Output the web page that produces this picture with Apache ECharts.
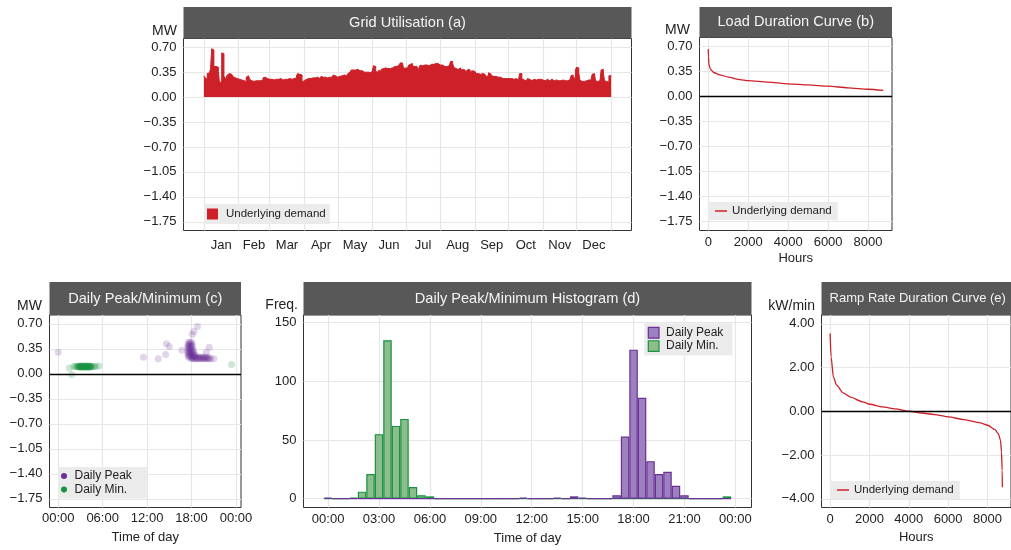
<!DOCTYPE html>
<html>
<head>
<meta charset="utf-8">
<title>Grid utilisation</title>
<script src="https://cdn.jsdelivr.net/npm/echarts@6.0.0/dist/echarts.min.js"></script>
<style>
  html, body { margin: 0; padding: 0; background: #fff; }
  #chart { width: 1011px; height: 550px; }
</style>
</head>
<body>
<div id="chart"></div>
<script>
// ---------- data ----------
const months = ['Jan', 'Feb', 'Mar', 'Apr', 'May', 'Jun', 'Jul', 'Aug', 'Sep', 'Oct', 'Nov', 'Dec'];
const monthStartDay = [0, 31, 59, 90, 120, 151, 181, 212, 243, 273, 304, 334, 365];
const monthMidDay = [15.5, 45, 74.5, 105, 135.5, 166, 196.5, 227.5, 258, 288.5, 319, 349.5];

// daily peak of underlying demand, MW (one value per day)
const dailyPeakMW = [
  0.30, 0.27, 0.25, 0.33, 0.34, 0.34, 0.40, 0.68, 0.66, 0.43, 0.43, 0.44, 0.42, 0.36, 0.20, 0.22, 0.62, 0.61, 0.30, 0.25, 0.28, 0.31, 0.33, 0.33, 0.32, 0.30, 0.29, 0.27, 0.27, 0.26, 0.26,
  0.25, 0.25, 0.24, 0.25, 0.23, 0.21, 0.22, 0.28, 0.30, 0.29, 0.25, 0.23, 0.23, 0.22, 0.23, 0.23, 0.22, 0.23, 0.24, 0.23, 0.23, 0.24, 0.27, 0.28, 0.28, 0.26, 0.25, 0.25,
  0.24, 0.25, 0.25, 0.24, 0.25, 0.25, 0.24, 0.25, 0.25, 0.26, 0.25, 0.24, 0.25, 0.25, 0.24, 0.25, 0.25, 0.26, 0.25, 0.25, 0.24, 0.26, 0.28, 0.27, 0.30, 0.33, 0.32, 0.33, 0.31, 0.21, 0.23,
  0.24, 0.25, 0.26, 0.26, 0.27, 0.26, 0.27, 0.27, 0.26, 0.27, 0.27, 0.28, 0.27, 0.26, 0.28, 0.29, 0.28, 0.27, 0.28, 0.28, 0.27, 0.27, 0.28, 0.27, 0.28, 0.29, 0.31, 0.30, 0.29, 0.28,
  0.28, 0.29, 0.30, 0.30, 0.30, 0.31, 0.30, 0.30, 0.31, 0.33, 0.35, 0.37, 0.38, 0.38, 0.39, 0.38, 0.38, 0.39, 0.38, 0.37, 0.38, 0.37, 0.36, 0.35, 0.34, 0.35, 0.36, 0.35, 0.33, 0.34, 0.34,
  0.37, 0.44, 0.43, 0.36, 0.35, 0.37, 0.38, 0.36, 0.39, 0.40, 0.39, 0.41, 0.40, 0.40, 0.41, 0.40, 0.38, 0.41, 0.42, 0.43, 0.42, 0.43, 0.44, 0.45, 0.47, 0.48, 0.48, 0.46, 0.40, 0.41,
  0.42, 0.41, 0.44, 0.46, 0.48, 0.47, 0.44, 0.43, 0.42, 0.43, 0.41, 0.37, 0.42, 0.45, 0.44, 0.46, 0.45, 0.46, 0.45, 0.46, 0.44, 0.43, 0.46, 0.47, 0.46, 0.47, 0.47, 0.46, 0.47, 0.46, 0.45,
  0.46, 0.45, 0.44, 0.43, 0.42, 0.43, 0.41, 0.44, 0.46, 0.50, 0.50, 0.47, 0.42, 0.40, 0.41, 0.39, 0.40, 0.41, 0.38, 0.39, 0.40, 0.38, 0.36, 0.35, 0.38, 0.39, 0.37, 0.36, 0.37, 0.37, 0.36,
  0.34, 0.33, 0.33, 0.33, 0.32, 0.31, 0.33, 0.33, 0.32, 0.30, 0.29, 0.30, 0.34, 0.33, 0.31, 0.30, 0.29, 0.28, 0.29, 0.27, 0.28, 0.29, 0.28, 0.27, 0.26, 0.27, 0.26, 0.25, 0.26, 0.26,
  0.26, 0.25, 0.26, 0.26, 0.25, 0.26, 0.26, 0.25, 0.24, 0.25, 0.33, 0.33, 0.26, 0.24, 0.24, 0.23, 0.24, 0.26, 0.25, 0.24, 0.23, 0.24, 0.25, 0.25, 0.24, 0.24, 0.25, 0.26, 0.25, 0.24, 0.24,
  0.24, 0.23, 0.24, 0.25, 0.24, 0.23, 0.24, 0.25, 0.24, 0.23, 0.24, 0.24, 0.23, 0.23, 0.24, 0.23, 0.24, 0.24, 0.23, 0.23, 0.24, 0.23, 0.24, 0.24, 0.25, 0.30, 0.31, 0.28, 0.26, 0.38,
  0.42, 0.41, 0.34, 0.24, 0.22, 0.23, 0.22, 0.24, 0.23, 0.24, 0.24, 0.23, 0.24, 0.26, 0.32, 0.33, 0.31, 0.23, 0.22, 0.24, 0.23, 0.25, 0.38, 0.39, 0.35, 0.23, 0.22, 0.22, 0.21, 0.30, 0.30
];

// load duration curve
const ldcHours = [0, 10, 33, 80, 167, 300, 583, 1000, 1583, 2000, 3000, 4000, 5000, 6000, 7000, 8000, 8760];
const ldcMW = [0.66, 0.55, 0.45, 0.40, 0.36, 0.33, 0.30, 0.27, 0.235, 0.22, 0.20, 0.175, 0.16, 0.143, 0.12, 0.10, 0.083];

// daily peak: time of day (h) and value (MW), outliers first, then the 18:00 cluster row by row
const peakHour = [0.0, 11.5, 13.5, 14.5, 14.6, 15.0, 16.7, 18.1, 18.3, 18.8, 20.0, 20.4, 21.0,
  18.0, 18.2, 18.4, 18.6, 18.8, 19.0, 19.2, 19.4, 19.6, 19.8, 20.0, 20.2, 20.4, 20.6,
  17.6, 17.8, 18.0, 18.2, 18.4, 18.6, 18.8, 19.0, 19.2, 19.4, 19.6, 19.8, 20.0, 20.3,
  17.5, 17.7, 17.9, 18.1, 18.3, 18.5,
  17.5, 17.7, 17.9, 18.1, 18.3,
  17.5, 17.7, 17.9, 18.1, 18.3,
  17.5, 17.7, 17.9, 18.1,
  17.5, 17.7, 17.9, 18.1,
  17.5, 17.7, 17.9, 18.1,
  17.6, 17.8, 18.0];
const peakMW = [0.30, 0.23, 0.21, 0.27, 0.42, 0.38, 0.33, 0.55, 0.59, 0.66, 0.30, 0.37, 0.21,
  0.21, 0.21, 0.21, 0.21, 0.21, 0.21, 0.21, 0.21, 0.21, 0.21, 0.21, 0.21, 0.21, 0.21,
  0.23, 0.23, 0.23, 0.23, 0.23, 0.23, 0.23, 0.23, 0.23, 0.23, 0.23, 0.23, 0.23, 0.23,
  0.26, 0.26, 0.26, 0.26, 0.26, 0.26,
  0.29, 0.29, 0.29, 0.29, 0.29,
  0.32, 0.32, 0.32, 0.32, 0.32,
  0.35, 0.35, 0.35, 0.35,
  0.38, 0.38, 0.38, 0.38,
  0.41, 0.41, 0.41, 0.41,
  0.44, 0.44, 0.44];
// daily minimum: outliers first, then the 03:00 cluster
const minHour = [1.5, 1.8, 5.5, 23.4,
  2.1, 2.3, 2.5, 2.6, 2.7, 2.8, 2.9, 3.0, 3.1, 3.2, 3.3, 3.4, 3.5, 3.6, 3.7, 3.8, 3.9, 4.0, 4.1, 4.2, 4.3, 4.4, 4.5, 4.7, 4.9, 5.1,
  2.8, 3.0, 3.2, 3.4, 3.6, 3.8, 4.0, 4.2, 4.4,
  2.9, 3.1, 3.3, 3.5, 3.7, 3.9, 4.1, 4.3];
const minMW = [0.08, -0.01, 0.11, 0.13,
  0.10, 0.10, 0.10, 0.10, 0.10, 0.10, 0.10, 0.10, 0.10, 0.10, 0.10, 0.10, 0.10, 0.10, 0.10, 0.10, 0.10, 0.10, 0.10, 0.10, 0.10, 0.10, 0.10, 0.10, 0.10, 0.10,
  0.09, 0.09, 0.09, 0.09, 0.09, 0.09, 0.09, 0.09, 0.09,
  0.11, 0.11, 0.11, 0.11, 0.11, 0.11, 0.11, 0.11];

// histogram, 30 minute bins starting 00:00
const peakCount = [1, 0, 0, 0, 0, 0, 0, 0, 0, 0, 0, 0, 0, 0, 0, 0, 0, 0, 0, 0, 0, 0, 0, 1, 0, 0, 0, 1, 0, 2,
  1, 0, 0, 0, 3, 53, 127, 86, 32, 21, 23, 11, 3, 0, 0, 0, 0, 0];
const minCount = [0, 0, 0, 1, 6, 21, 55, 135, 62, 68, 10, 3, 2, 0, 0, 0, 0, 0, 0, 0, 0, 0, 0, 0, 0, 0, 0, 0, 0, 0,
  0, 0, 0, 0, 0, 0, 0, 0, 0, 0, 0, 0, 0, 0, 0, 0, 0, 2];
const binHour = peakCount.map((_, i) => i * 0.5);

// ramp rate duration curve
const rampHours = [0, 50, 166, 332, 664, 1000, 1660, 2025, 2656, 3320, 4034, 4650, 5300, 6026, 6800, 7636, 8018, 8383, 8550, 8665, 8715, 8748, 8760];
const rampKWmin = [3.56, 2.49, 1.57, 1.19, 0.84, 0.66, 0.43, 0.32, 0.20, 0.11, 0.00, -0.08, -0.15, -0.26, -0.38, -0.53, -0.64, -0.84, -1.02, -1.33, -1.86, -2.70, -3.47];

// tick values
const mwTicks = [-1.75, -1.40, -1.05, -0.70, -0.35, 0, 0.35, 0.70];
const hourTicks = [0, 2000, 4000, 6000, 8000];
const tod6Ticks = [0, 6, 12, 18, 24];
const tod3Ticks = [0, 3, 6, 9, 12, 15, 18, 21, 24];
const freqTicks = [0, 50, 100, 150];
const rampTicks = [-4, -2, 0, 2, 4];

// ---------- style ----------
const FONT = "'Liberation Sans', Arial, Helvetica, sans-serif";
const INK = '#222222';
const RED = '#CE2029';
const PURPLE = '#6B2F96';
const GREEN = '#15933E';
const STRIP = '#585858';
const LEGEND_BG = '#EBEBEB';
const GRIDLINE = '#E6E6E6';

const fmt2 = v => (v < 0 ? '\u2212' : '') + Math.abs(v).toFixed(2);
const fmtTod = v => String(v % 24).padStart(2, '0') + ':00';

function axis(gridIndex, min, max, ticks, formatter, margin, labelTicks) {
  return {
    type: 'value', gridIndex, min, max,
    axisLine: { show: false },
    axisTick: { show: true, length: 4, customValues: ticks, lineStyle: { color: '#333', width: 1 } },
    axisLabel: { customValues: labelTicks || ticks, formatter, color: INK, fontSize: 13, margin },
    splitLine: { show: false }
  };
}

function xName(ax, name, gap) {
  return Object.assign(ax, {
    name, nameLocation: 'middle', nameGap: gap,
    nameTextStyle: { color: INK, fontSize: 13 }
  });
}

const gridBox = { show: true, borderColor: '#333', borderWidth: 1, backgroundColor: '#fff' };
const grids = [
  Object.assign({ left: 183.5, top: 38.5, width: 448, height: 192 }, gridBox),
  Object.assign({ left: 699.5, top: 37.5, width: 192.5, height: 193 }, gridBox),
  Object.assign({ left: 49.5, top: 315, width: 191.5, height: 192.5 }, gridBox),
  Object.assign({ left: 303.5, top: 315, width: 448, height: 192.5 }, gridBox),
  Object.assign({ left: 821.5, top: 315, width: 194.2, height: 192.5 }, gridBox)
];

const xAxes = [
  axis(0, -18.25, 383.25, monthStartDay, v => months[monthMidDay.indexOf(v)], 8, monthMidDay),
  xName(axis(1, -438, 9198, hourTicks, v => String(v), 5), 'Hours', 21),
  xName(axis(2, -1.175, 24.675, tod6Ticks, fmtTod, 4), 'Time of day', 23),
  xName(axis(3, -1.45, 24.95, tod3Ticks, fmtTod, 5), 'Time of day', 24),
  xName(axis(4, -438, 9198, hourTicks, v => String(v), 5), 'Hours', 23)
];
const yAxes = [
  axis(0, -1.8725, 0.8225, mwTicks, fmt2, 7),
  axis(1, -1.8725, 0.8225, mwTicks, fmt2, 7),
  axis(2, -1.8725, 0.8225, mwTicks, fmt2, 7),
  axis(3, -7.5, 156.5, freqTicks, v => String(v), 7),
  axis(4, -4.4, 4.4, rampTicks, fmt2, 7)
];

// panel grid lines at the tick values, drawn below the data
const gridTicks = [
  [monthStartDay, mwTicks], [hourTicks, mwTicks], [tod6Ticks, mwTicks], [tod3Ticks, freqTicks], [hourTicks, rampTicks]
];
const gridLineSeries = gridTicks.map(([xt, yt], i) => ({
  type: 'line', name: 'gridlines-' + i, xAxisIndex: i, yAxisIndex: i, data: [], silent: true,
  markLine: {
    z: 1, silent: true, symbol: ['none', 'none'], label: { show: false },
    emphasis: { disabled: true },
    lineStyle: { color: GRIDLINE, width: 1.2, type: 'solid' },
    data: xt.map(v => ({ xAxis: v })).concat(yt.map(v => ({ yAxis: v })))
  }
}));

const zeroLine = {
  silent: true, symbol: ['none', 'none'], label: { show: false },
  lineStyle: { color: '#000', width: 1.3, type: 'solid' },
  data: [{ yAxis: 0 }]
};

const demandData = dailyPeakMW.map((v, i) => [i, v]);
demandData.push([365, dailyPeakMW[dailyPeakMW.length - 1]]);

const series = gridLineSeries.concat([
  {
    name: 'Underlying demand', type: 'line', xAxisIndex: 0, yAxisIndex: 0,
    step: 'end', symbol: 'none',
    lineStyle: { color: RED, width: 1 },
    itemStyle: { color: RED },
    areaStyle: { color: RED, opacity: 1 },
    data: demandData
  },
  {
    name: 'Underlying demand', type: 'line', xAxisIndex: 1, yAxisIndex: 1,
    symbol: 'none', smooth: 0.25, smoothMonotone: 'x',
    lineStyle: { color: RED, width: 1.3 }, itemStyle: { color: RED },
    data: ldcHours.map((h, i) => [h, ldcMW[i]]),
    markLine: zeroLine
  },
  {
    name: 'Daily Peak', type: 'scatter', xAxisIndex: 2, yAxisIndex: 2,
    symbolSize: 7, itemStyle: { color: PURPLE, opacity: 0.2 },
    data: peakHour.map((h, i) => [h, peakMW[i]]),
    markLine: zeroLine
  },
  {
    name: 'Daily Min.', type: 'scatter', xAxisIndex: 2, yAxisIndex: 2,
    symbolSize: 7, itemStyle: { color: GREEN, opacity: 0.22 },
    data: minHour.map((h, i) => [h, minMW[i]])
  },
  {
    name: 'Daily Min.', type: 'bar', xAxisIndex: 3, yAxisIndex: 3, stack: 'hist', barWidth: '100%',
    itemStyle: { color: '#8DBC8D', borderColor: GREEN, borderWidth: 1.2 },
    data: binHour.map((h, i) => [h, minCount[i]])
  },
  {
    name: 'Daily Peak', type: 'bar', xAxisIndex: 3, yAxisIndex: 3, stack: 'hist', barWidth: '100%',
    itemStyle: { color: '#9D80BF', borderColor: PURPLE, borderWidth: 1.2 },
    data: binHour.map((h, i) => [h, peakCount[i]])
  },
  {
    name: 'Underlying demand', type: 'line', xAxisIndex: 4, yAxisIndex: 4,
    symbol: 'none', smooth: 0.25, smoothMonotone: 'x',
    lineStyle: { color: RED, width: 1.3 }, itemStyle: { color: RED },
    data: rampHours.map((h, i) => [h, rampKWmin[i]]),
    markLine: zeroLine
  }
]);

const legendText = { color: INK, fontSize: 11.5 };
const legends = [
  {
    left: 204, top: 204, padding: [4, 4, 4, 3], backgroundColor: LEGEND_BG,
    icon: 'rect', itemWidth: 11, itemHeight: 11, selectedMode: false,
    textStyle: { color: INK, fontSize: 11.5, padding: [0, 0, 0, 3] },
    data: [{ name: 'Underlying demand', itemStyle: { color: RED, opacity: 1 } }]
  },
  {
    left: 708, top: 202, padding: [3, 6, 3, 7], backgroundColor: LEGEND_BG,
    icon: 'rect', itemWidth: 12, itemHeight: 1.5, textStyle: legendText, selectedMode: false,
    data: [{ name: 'Underlying demand', itemStyle: { color: RED, opacity: 1 } }]
  },
  {
    left: 58, top: 467, orient: 'vertical', padding: [3, 15, 3, 3], backgroundColor: LEGEND_BG,
    icon: 'circle', itemWidth: 11, itemHeight: 6, itemGap: 1.5,
    textStyle: { color: INK, fontSize: 12 }, selectedMode: false,
    data: [
      { name: 'Daily Peak', itemStyle: { color: PURPLE, opacity: 1, borderWidth: 0 } },
      { name: 'Daily Min.', itemStyle: { color: GREEN, opacity: 1, borderWidth: 0 } }
    ]
  },
  {
    left: 644.3, top: 323.3, orient: 'vertical', padding: [3.5, 9, 3.5, 3.4], backgroundColor: LEGEND_BG,
    icon: 'rect', itemWidth: 10.7, itemHeight: 10.7, itemGap: 1.3, selectedMode: false,
    textStyle: { color: INK, fontSize: 12, padding: [0, 0, 0, 2] },
    data: [
      { name: 'Daily Peak', itemStyle: { color: '#9D80BF', borderColor: PURPLE, borderWidth: 1.2, opacity: 1 } },
      { name: 'Daily Min.', itemStyle: { color: '#8DBC8D', borderColor: GREEN, borderWidth: 1.2, opacity: 1 } }
    ]
  },
  {
    left: 830, top: 481, padding: [3, 6, 3, 7], backgroundColor: LEGEND_BG,
    icon: 'rect', itemWidth: 12, itemHeight: 1.5, textStyle: legendText, selectedMode: false,
    data: [{ name: 'Underlying demand', itemStyle: { color: RED, opacity: 1 } }]
  }
];

// facet strips and unit labels
function strip(x, y, w, h, title, size) {
  return [
    { type: 'rect', z: 10, shape: { x, y, width: w, height: h }, style: { fill: STRIP } },
    {
      type: 'text', z: 11, x: x + w / 2, y: y + h / 2,
      style: { text: title, fill: '#F4F4F4', font: size + 'px ' + FONT, align: 'center', verticalAlign: 'middle' }
    }
  ];
}
function unit(x, y, text) {
  return {
    type: 'text', z: 11, x, y,
    style: { text, fill: INK, font: '14px ' + FONT, align: 'right', verticalAlign: 'middle' }
  };
}
const graphics = [].concat(
  strip(183.5, 7, 448, 31.5, 'Grid Utilisation (a)', 14.6),
  strip(699.5, 7, 192.5, 30.5, 'Load Duration Curve (b)', 14.6),
  strip(49.5, 282, 191.5, 33, 'Daily Peak/Minimum (c)', 14.6),
  strip(303.5, 282, 448, 33, 'Daily Peak/Minimum Histogram (d)', 14.6),
  strip(821.5, 282, 192.5, 33, 'Ramp Rate Duration Curve (e)', 13),
  [
    unit(177, 31, 'MW'),
    unit(690, 30, 'MW'),
    unit(42, 306, 'MW'),
    unit(298, 305, 'Freq.'),
    unit(815, 306, 'kW/min')
  ]
);

const chart = echarts.init(document.getElementById('chart'), null, { renderer: 'canvas' });
chart.setOption({
  animation: false,
  backgroundColor: '#fff',
  textStyle: { fontFamily: FONT },
  grid: grids,
  xAxis: xAxes,
  yAxis: yAxes,
  legend: legends,
  graphic: graphics,
  series
});
</script>
</body>
</html>
